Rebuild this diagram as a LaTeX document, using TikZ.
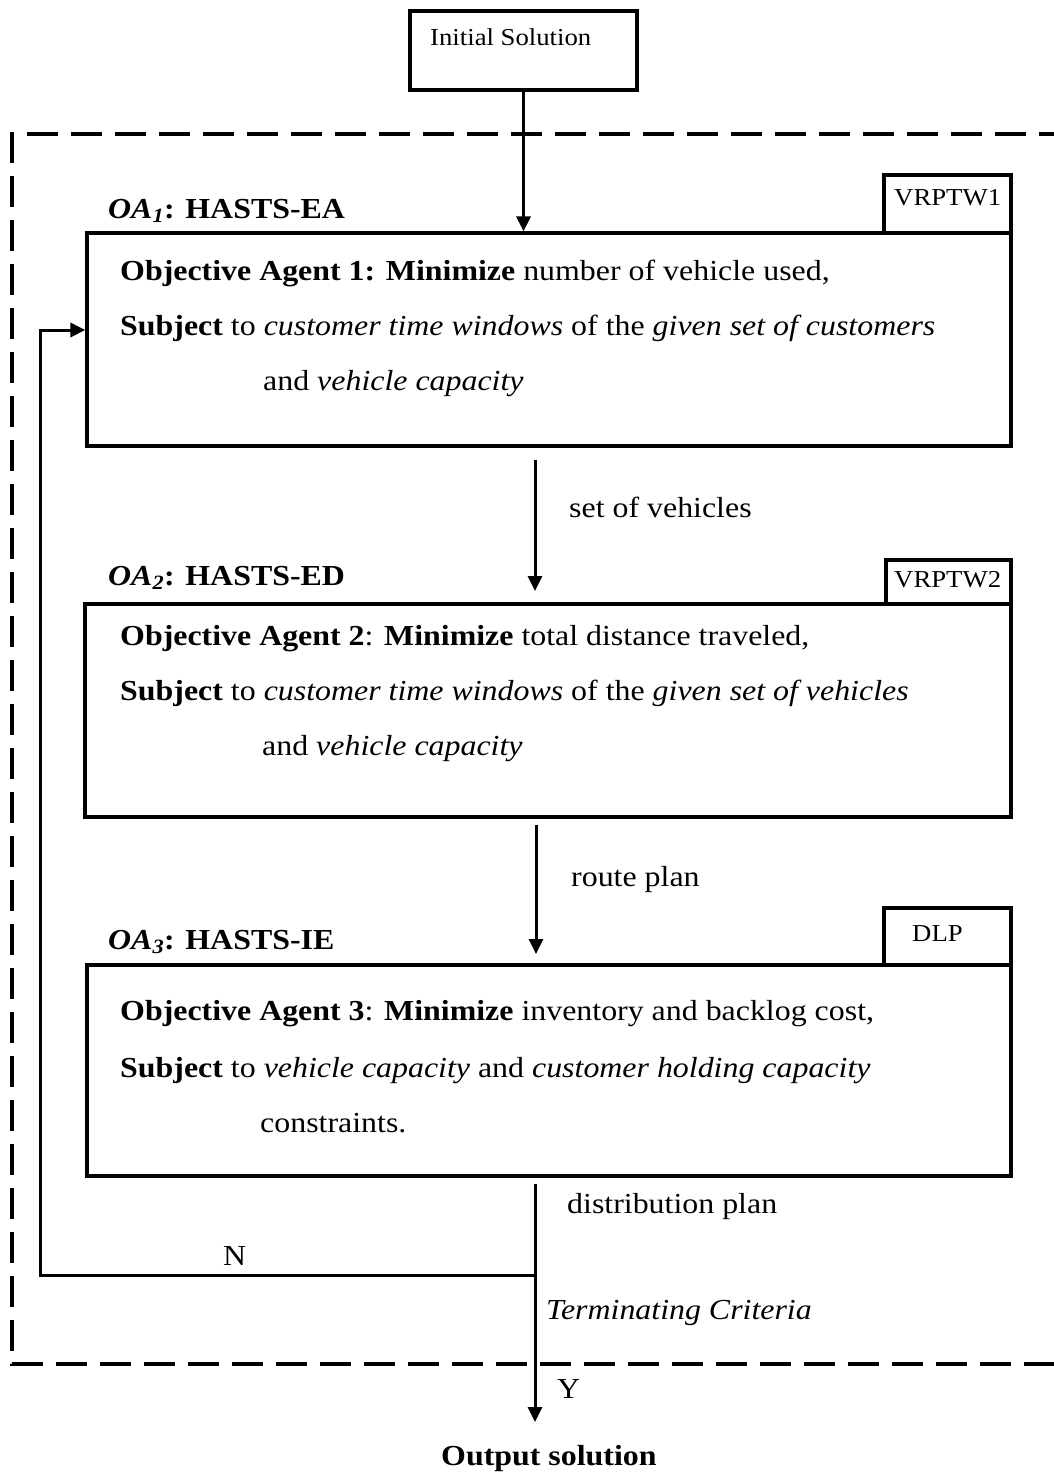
\documentclass[tikz,border=0pt]{standalone}
\usepackage{fontspec}
\setmainfont{Liberation Serif}[FakeStretch=1.1]
\usetikzlibrary{arrows.meta}

\begin{document}
\begin{tikzpicture}[x=1pt,y=-1pt,
  every node/.style={inner sep=0pt, anchor=base west},
  txt/.style={font=\fontsize{29}{34}\selectfont},
  small/.style={font=\fontsize{24.3}{29}\selectfont},
  frame/.style={draw, line width=3.2pt, anchor=center},
  tabbox/.style={draw, line width=3.4pt, anchor=center},
  flow/.style={line width=3pt, -{Triangle[length=15pt,width=14pt]}},
  plain/.style={line width=3pt},
  zone/.style={line width=4pt, dash pattern=on 31pt off 13pt}
]
\useasboundingbox (0,0) rectangle (1054,1473);

% dashed region holding the three objective agents
\draw[zone] (1070,134) -- (12,134) -- (12,1364) -- (1070,1364);

% start box
\node[frame, minimum width=227pt, minimum height=79pt] (init) at (523.5,50.5) {};
\node[small] (inittxt) at (430,45) {Initial Solution};

% agent 1
\node[tabbox, minimum width=127pt, minimum height=58pt] (tab1) at (947.5,204) {};
\node[small] (tab1txt) at (894,205) {VRPTW1};
\node[frame, minimum width=924pt, minimum height=213pt] (b1) at (549,339.5) {};
\node[txt] (oa1) at (108,218) {\textbf{\textit{OA}\textsubscript{\textit{1}}: HASTS-EA}};
\node[txt] (b1l1) at (120,280) {\textbf{Objective Agent 1: Minimize} number of vehicle used,};
\node[txt] (b1l2) at (120,335) {\textbf{Subject} to \textit{customer time windows} of the \textit{given set of customers}};
\node[txt] (b1l3) at (263,390) {and \textit{vehicle capacity}};

% agent 2
\node[tabbox, minimum width=125pt, minimum height=44pt] (tab2) at (948.5,582) {};
\node[small] (tab2txt) at (894,587) {VRPTW2};
\node[frame, minimum width=926pt, minimum height=213pt] (b2) at (548,710.5) {};
\node[txt] (oa2) at (108,585) {\textbf{\textit{OA}\textsubscript{\textit{2}}: HASTS-ED}};
\node[txt] (b2l1) at (120,645) {\textbf{Objective Agent 2}: \textbf{Minimize} total distance traveled,};
\node[txt] (b2l2) at (120,700) {\textbf{Subject} to \textit{customer time windows} of the \textit{given set of vehicles}};
\node[txt] (b2l3) at (262,755) {and \textit{vehicle capacity}};

% agent 3
\node[tabbox, minimum width=127pt, minimum height=57pt] (tab3) at (947.5,936.5) {};
\node[small] (tab3txt) at (912,941) {DLP};
\node[frame, minimum width=924pt, minimum height=211pt] (b3) at (549,1070.5) {};
\node[txt] (oa3) at (108,949) {\textbf{\textit{OA}\textsubscript{\textit{3}}: HASTS-IE}};
\node[txt] (b3l1) at (120,1020) {\textbf{Objective Agent 3}: \textbf{Minimize} inventory and backlog cost,};
\node[txt] (b3l2) at (120,1077) {\textbf{Subject} to \textit{vehicle capacity} and \textit{customer holding capacity}};
\node[txt] (b3l3) at (260,1132) {constraints.};

% connector labels
\node[txt] (lbl1) at (569,517) {set of vehicles};
\node[txt] (lbl2) at (571,886) {route plan};
\node[txt] (lbl3) at (567,1213) {distribution plan};
\node[txt] (lbl4) at (546,1319) {\textit{Terminating Criteria}};
\node[txt] (lbln) at (223,1265) {N};
\node[txt] (lbly) at (557,1398) {Y};
\node[txt] (out) at (441,1465) {\textbf{Output solution}};

% connector end points
\coordinate (s1) at (535,460);
\coordinate (e1) at (535,591);
\coordinate (s2) at (536,825);
\coordinate (e2) at (536,954);
\coordinate (s3) at (535,1184);
\coordinate (j) at (535,1275);
\coordinate (e3) at (535,1422);
\coordinate (fbc) at (40,1275);

% connectors
\draw[flow] (init.south) -- (init.south |- b1.north);
\draw[flow] (s1) -- (e1);
\draw[flow] (s2) -- (e2);
\draw[flow] (s3) -- (e3);
\draw[flow] (j) -- (fbc) |- ([yshift=9.5pt]b1.west);
\end{tikzpicture}
\end{document}
